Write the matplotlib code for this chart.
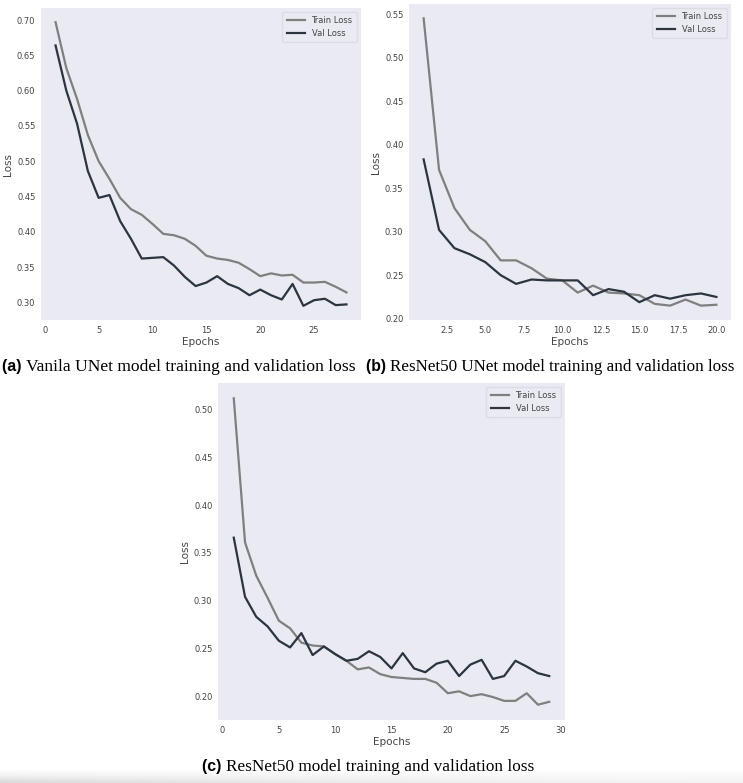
import numpy as np
import matplotlib
matplotlib.use("Agg")
import matplotlib.pyplot as plt

# (a) Vanila UNet
epochs_a = list(range(1, 29))
train_a = [0.697, 0.632, 0.588, 0.537, 0.500, 0.475, 0.448, 0.432, 0.424, 0.411,
           0.397, 0.395, 0.390, 0.380, 0.366, 0.362, 0.360, 0.356, 0.347, 0.337,
           0.341, 0.338, 0.339, 0.328, 0.328, 0.329, 0.322, 0.314]
val_a = [0.664, 0.600, 0.553, 0.486, 0.448, 0.452, 0.415, 0.390, 0.362, 0.363,
         0.364, 0.352, 0.336, 0.323, 0.328, 0.337, 0.326, 0.320, 0.310, 0.318,
         0.310, 0.304, 0.326, 0.295, 0.303, 0.305, 0.296, 0.297]

# (b) ResNet50 UNet
epochs_b = list(range(1, 21))
train_b = [0.545, 0.371, 0.327, 0.302, 0.289, 0.267, 0.267, 0.258, 0.246, 0.244,
           0.230, 0.238, 0.230, 0.229, 0.227, 0.217, 0.215, 0.222, 0.215, 0.216]
val_b = [0.383, 0.302, 0.281, 0.274, 0.265, 0.250, 0.240, 0.245, 0.244, 0.244,
         0.244, 0.227, 0.234, 0.231, 0.219, 0.227, 0.223, 0.227, 0.229, 0.225]

# (c) ResNet50
epochs_c = list(range(1, 30))
train_c = [0.512, 0.361, 0.326, 0.303, 0.279, 0.271, 0.256, 0.253, 0.252, 0.244,
           0.237, 0.228, 0.230, 0.223, 0.220, 0.219, 0.218, 0.218, 0.214, 0.203,
           0.205, 0.200, 0.202, 0.199, 0.195, 0.195, 0.203, 0.191, 0.194]
val_c = [0.366, 0.304, 0.283, 0.273, 0.258, 0.251, 0.266, 0.243, 0.252, 0.244,
         0.237, 0.239, 0.247, 0.241, 0.229, 0.245, 0.229, 0.225, 0.234, 0.237,
         0.221, 0.233, 0.238, 0.218, 0.221, 0.237, 0.231, 0.224, 0.221]

captions = ["Vanila UNet model training and validation loss",
            "ResNet50 UNet model training and validation loss",
            "ResNet50 model training and validation loss"]
tags = ["(a)", "(b)", "(c)"]

train_color = "#7f7f7f"
val_color = "#2c3440"
bg = "#eaeaf2"

W, H = 743, 783
fig = plt.figure(figsize=(W / 100, H / 100), dpi=100)


def px_axes(left, top, right, bottom):
    return fig.add_axes([left / W, 1 - bottom / H, (right - left) / W, (bottom - top) / H])


def style(ax):
    ax.set_facecolor(bg)
    for s in ax.spines.values():
        s.set_visible(False)
    ax.tick_params(length=0, labelsize=6, colors="#444444", pad=4)
    ax.set_xlabel("Epochs", fontsize=7.5, color="#444444", labelpad=2)
    ax.set_ylabel("Loss", fontsize=7.5, color="#444444", labelpad=3)
    leg = ax.legend(loc="upper right", fontsize=6, frameon=True, fancybox=True,
                    handlelength=2.2, borderpad=0.5, labelspacing=0.4)
    leg.get_frame().set_edgecolor("#dcdce4")
    leg.get_frame().set_facecolor(bg)
    leg.get_frame().set_alpha(1)
    for t in leg.get_texts():
        t.set_color("#444444")


panels = [
    (px_axes(41, 8, 361, 320), epochs_a, train_a, val_a),
    (px_axes(409, 4, 731, 320), epochs_b, train_b, val_b),
    (px_axes(218, 383, 565, 720), epochs_c, train_c, val_c),
]
for ax, ep, tr, va in panels:
    ax.plot(ep, tr, color=train_color, lw=1.6, label="Train Loss")
    ax.plot(ep, va, color=val_color, lw=1.6, label="Val Loss")
    style(ax)

# captions (widths matched to the reference)
cap_pos = [(2, 367), (366, 367), (202, 767)]
cap_size = [12.6, 12.25, 12.4]
for (x, y), tag, cap, fs in zip(cap_pos, tags, captions, cap_size):
    t1 = fig.text(x / W, 1 - y / H, tag + " ", fontsize=fs - 1, fontweight="bold",
                  family="Liberation Sans", va="center", ha="left")
    fig.canvas.draw()
    bb = t1.get_window_extent()
    fig.text(bb.x1 / W, 1 - y / H, cap, fontsize=fs, family="Liberation Serif",
             va="center", ha="left")

# faint screenshot shading at the bottom edge
gax = fig.add_axes([0, 0, 1, 14 / H])
gx = np.linspace(1, 0, 200)
gy = np.linspace(0, 1, 20)[:, None]
shade = np.clip(gy * (0.4 + 0.6 * gx[None, :] ** 1.5), 0, 1)
gax.imshow(shade, cmap="Greys", vmin=0, vmax=4, aspect="auto", extent=[0, 1, 0, 1], origin="upper")
gax.axis("off")
gax.set_zorder(-1)

fig.savefig("out.png", dpi=100)
